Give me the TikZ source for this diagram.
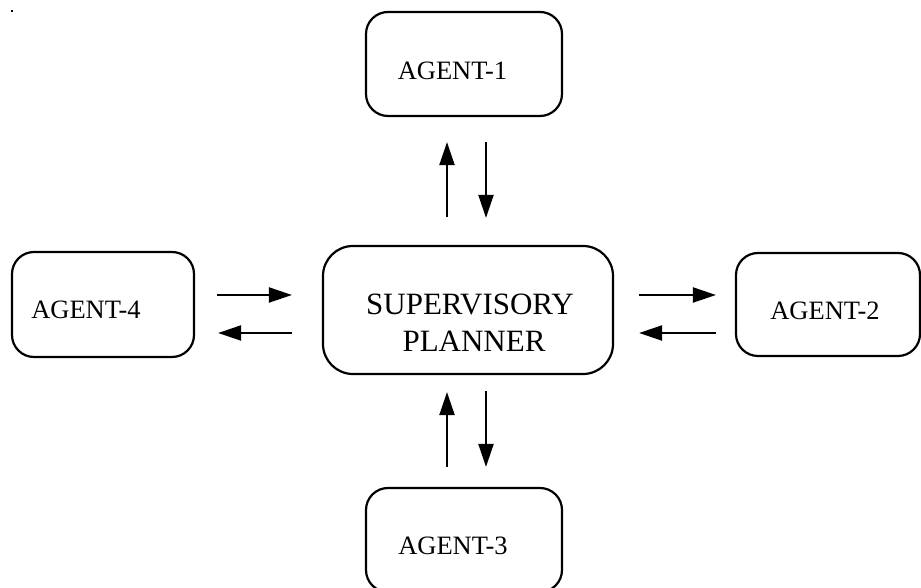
\documentclass[tikz,border=0pt]{standalone}
\usepackage{fontspec}
\setmainfont{Liberation Serif}
\usetikzlibrary{arrows.meta}
\begin{document}
\begin{tikzpicture}[x=1pt,y=1pt,
  agentbox/.style={draw,line width=2.2pt,rounded corners=22pt,inner sep=0pt,
    minimum width=196pt,minimum height=104pt},
  planbox/.style={draw,line width=2.2pt,rounded corners=30pt,inner sep=0pt,
    minimum width=290pt,minimum height=128pt},
  agenttext/.style={anchor=base,inner sep=0pt,font=\fontsize{26.5}{30}\selectfont},
  plantext/.style={anchor=base,inner sep=0pt,font=\fontsize{31}{37}\selectfont},
  arr/.style={line width=2.2pt,-{Triangle[length=23pt,width=15pt]}}]
\useasboundingbox (0,0) rectangle (921,588);
\clip (0,0) rectangle (921,588);

% small mark in the corner
\fill (10.7,576) rectangle (12.7,578);

% boxes
\node[agentbox] (a1) at (464,524) {};
\node[planbox] (sp) at (468,278) {};
\node[agentbox,minimum width=182pt,minimum height=105pt] (a4) at (103,283.5) {};
\node[agentbox,minimum width=184pt,minimum height=103pt] (a2) at (828,283.5) {};
\node[agentbox] (a3) at (464,48) {};

% labels
\node[agenttext] (t1) at (452.5,508) {AGENT-1};
\node[agenttext] (t4) at (86,269) {AGENT-4};
\node[agenttext] (t2) at (825,268) {AGENT-2};
\node[agenttext] (t3) at (453,33) {AGENT-3};
\node[plantext] (s1) at (470,273) {SUPERVISORY};
\node[plantext] (s2) at (474,236) {PLANNER};

% planner <-> agent 1
\draw[arr] ([xshift=-21pt,yshift=28pt]sp.north) -- ([xshift=-17pt,yshift=-25pt]a1.south);
\draw[arr] ([xshift=22pt,yshift=-25pt]a1.south) -- ([xshift=18pt,yshift=27pt]sp.north);
% planner <-> agent 3
\draw[arr] ([xshift=-17pt,yshift=20pt]a3.north) -- ([xshift=-21pt,yshift=-17pt]sp.south);
\draw[arr] ([xshift=18pt,yshift=-16pt]sp.south) -- ([xshift=22pt,yshift=20pt]a3.north);
% planner <-> agent 4
\draw[arr] ([xshift=22pt,yshift=9.5pt]a4.east) -- ([xshift=-30pt,yshift=15pt]sp.west);
\draw[arr] ([xshift=-30pt,yshift=-23pt]sp.west) -- ([xshift=23pt,yshift=-28.5pt]a4.east);
% planner <-> agent 2
\draw[arr] ([xshift=25pt,yshift=15pt]sp.east) -- ([xshift=-19pt,yshift=9.5pt]a2.west);
\draw[arr] ([xshift=-19pt,yshift=-28.5pt]a2.west) -- ([xshift=25pt,yshift=-23pt]sp.east);
\end{tikzpicture}
\end{document}
